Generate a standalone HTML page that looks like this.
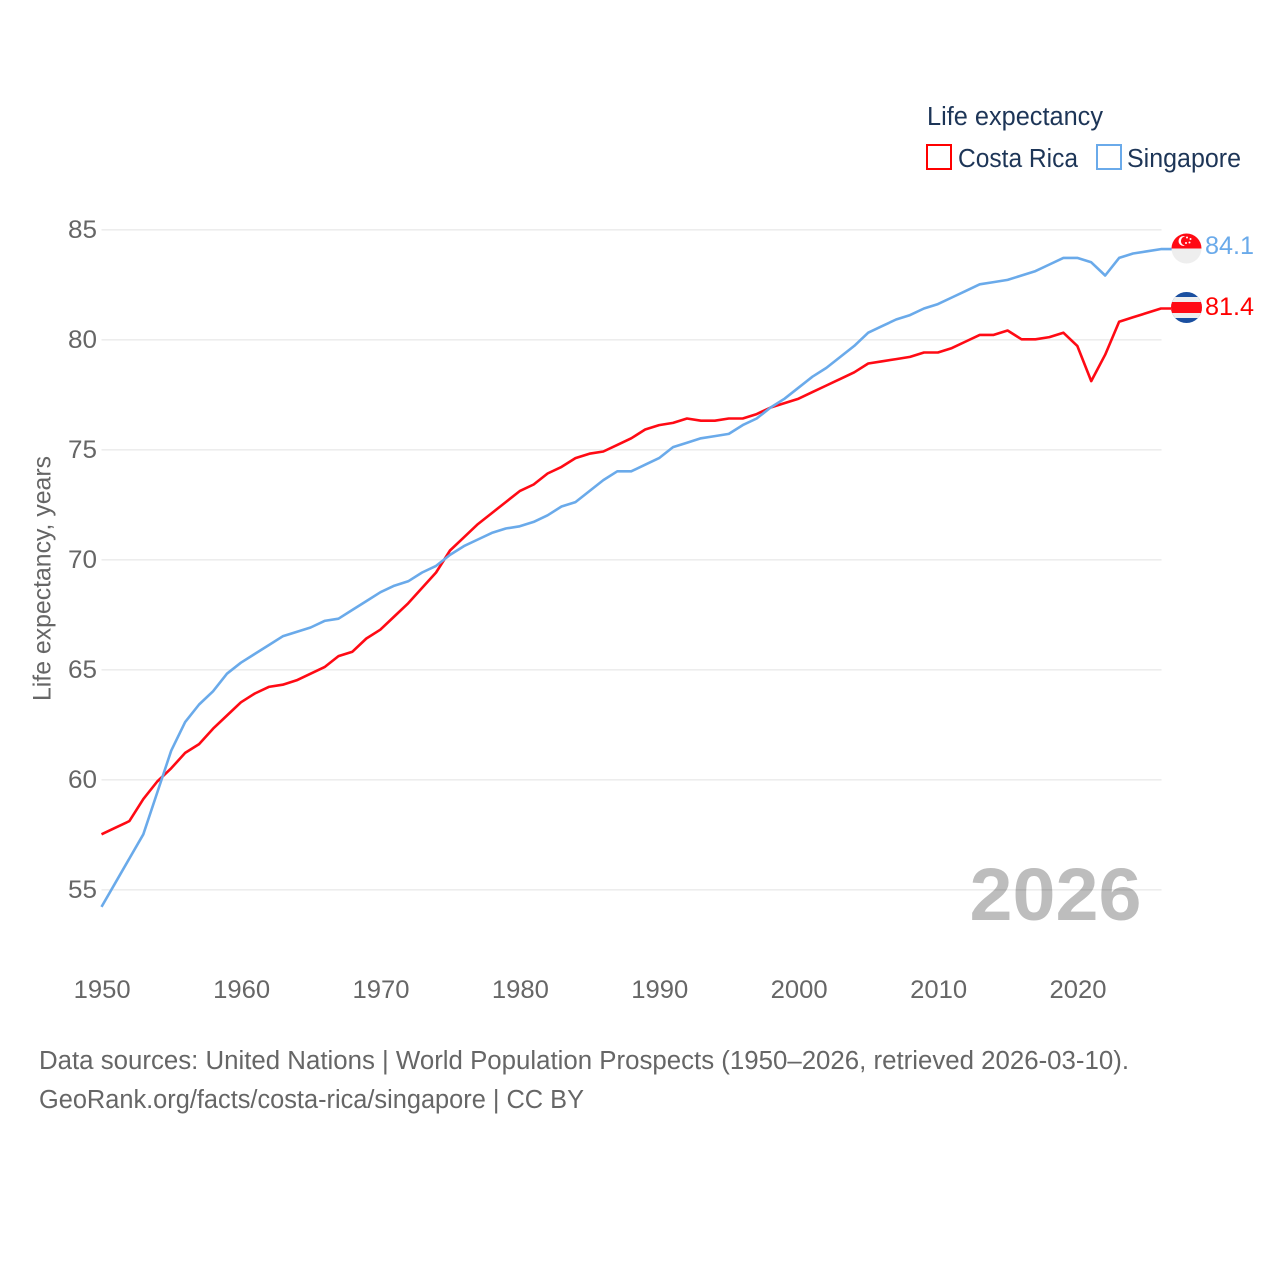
<!DOCTYPE html>
<html>
<head>
<meta charset="utf-8">
<title>Life expectancy: Costa Rica vs Singapore</title>
<style>
html,body{margin:0;padding:0;background:#fff;}
svg{display:block;font-family:"Liberation Sans",sans-serif;}
</style>
</head>
<body>
<svg id="chart" xmlns="http://www.w3.org/2000/svg" width="1280" height="1280" viewBox="0 0 1280 1280">
  <defs>
    <clipPath id="sg-clip"><circle cx="1186.5" cy="248.5" r="15"/></clipPath>
    <clipPath id="cr-clip"><circle cx="1186.5" cy="307.5" r="15.5"/></clipPath>
  </defs>
  <rect x="0" y="0" width="1280" height="1280" fill="#fff"/>

  <text x="969.5" y="920" font-size="74" font-weight="700" fill="#bdbdbd" textLength="172" lengthAdjust="spacingAndGlyphs">2026</text>

  <g id="grid"></g>
  <g id="y-ticks"></g>
  <g id="x-ticks"></g>

  <text transform="translate(50.5,701) rotate(-90)" x="0" y="0" font-size="25" fill="#666" textLength="245" lengthAdjust="spacingAndGlyphs">Life expectancy, years</text>

  <g id="series" transform="translate(0,-0.5)"></g>

  <g>
    <text x="927" y="125" font-size="25.5" fill="#1d3557" textLength="176" lengthAdjust="spacingAndGlyphs">Life expectancy</text>
    <rect x="927" y="145" width="24" height="24" fill="#fff" stroke="#ff0000" stroke-width="2"/>
    <text x="958" y="167" font-size="25.5" fill="#1d3557" textLength="120" lengthAdjust="spacingAndGlyphs">Costa Rica</text>
    <rect x="1097" y="145" width="24" height="24" fill="#fff" stroke="#6aaaea" stroke-width="2"/>
    <text x="1127" y="167" font-size="25.5" fill="#1d3557" textLength="114" lengthAdjust="spacingAndGlyphs">Singapore</text>
  </g>

  <g clip-path="url(#sg-clip)">
    <rect x="1170" y="232" width="34" height="16.5" fill="#ff0a14"/>
    <rect x="1170" y="248.5" width="34" height="17" fill="#eeeeee"/>
    <circle cx="1183.5" cy="241" r="5" fill="#fff"/>
    <circle cx="1185.5" cy="241" r="4.6" fill="#ff0a14"/>
    <circle cx="1187" cy="237.5" r="1" fill="#fff"/>
    <circle cx="1190.5" cy="239" r="1" fill="#fff"/>
    <circle cx="1189.5" cy="242.5" r="1" fill="#fff"/>
    <circle cx="1186" cy="243" r="1" fill="#fff"/>
  </g>
  <g clip-path="url(#cr-clip)">
    <rect x="1170" y="291" width="34" height="34" fill="#1a4fa0"/>
    <rect x="1170" y="297" width="34" height="21" fill="#eeeeee"/>
    <rect x="1170" y="302" width="34" height="11" fill="#ff0a14"/>
  </g>

  <text id="label-sg" x="1205" y="254" font-size="25" fill="#6aaaea" textLength="49" lengthAdjust="spacingAndGlyphs"></text>
  <text id="label-cr" x="1205" y="315" font-size="25" fill="#ff0000" textLength="49" lengthAdjust="spacingAndGlyphs"></text>

  <text x="39" y="1069" font-size="25.5" fill="#666" textLength="1090" lengthAdjust="spacingAndGlyphs">Data sources: United Nations | World Population Prospects (1950–2026, retrieved 2026-03-10).</text>
  <text x="39" y="1108" font-size="25.5" fill="#666" textLength="545" lengthAdjust="spacingAndGlyphs">GeoRank.org/facts/costa-rica/singapore | CC BY</text>
</svg>
<script>
const startYear = 1950;
const yTicks = [55, 60, 65, 70, 75, 80, 85];
const xTicks = [1950, 1960, 1970, 1980, 1990, 2000, 2010, 2020];
const costaRica = [
  57.5, 57.8, 58.1, 59.1, 59.9, 60.5, 61.2, 61.6, 62.3, 62.9,
  63.5, 63.9, 64.2, 64.3, 64.5, 64.8, 65.1, 65.6, 65.8, 66.4,
  66.8, 67.4, 68.0, 68.7, 69.4, 70.4, 71.0, 71.6, 72.1, 72.6,
  73.1, 73.4, 73.9, 74.2, 74.6, 74.8, 74.9, 75.2, 75.5, 75.9,
  76.1, 76.2, 76.4, 76.3, 76.3, 76.4, 76.4, 76.6, 76.9, 77.1,
  77.3, 77.6, 77.9, 78.2, 78.5, 78.9, 79.0, 79.1, 79.2, 79.4,
  79.4, 79.6, 79.9, 80.2, 80.2, 80.4, 80.0, 80.0, 80.1, 80.3,
  79.7, 78.1, 79.3, 80.8, 81.0, 81.2, 81.4
];
const singapore = [
  54.2, 55.3, 56.4, 57.5, 59.4, 61.3, 62.6, 63.4, 64.0, 64.8,
  65.3, 65.7, 66.1, 66.5, 66.7, 66.9, 67.2, 67.3, 67.7, 68.1,
  68.5, 68.8, 69.0, 69.4, 69.7, 70.2, 70.6, 70.9, 71.2, 71.4,
  71.5, 71.7, 72.0, 72.4, 72.6, 73.1, 73.6, 74.0, 74.0, 74.3,
  74.6, 75.1, 75.3, 75.5, 75.6, 75.7, 76.1, 76.4, 76.9, 77.3,
  77.8, 78.3, 78.7, 79.2, 79.7, 80.3, 80.6, 80.9, 81.1, 81.4,
  81.6, 81.9, 82.2, 82.5, 82.6, 82.7, 82.9, 83.1, 83.4, 83.7,
  83.7, 83.5, 82.9, 83.7, 83.9, 84.0, 84.1
];

const SVG_NS = 'http://www.w3.org/2000/svg';
const xScale = function (year) { return 101.5 + (year - 1950) * 13.94; };
const yScale = function (value) { return 229.8 + (85 - value) * 22.0; };
const lastYear = startYear + costaRica.length - 1;
const plotRight = xScale(lastYear);
const flagEdge = 1172;

function make(tag, attrs, parent) {
  const el = document.createElementNS(SVG_NS, tag);
  Object.keys(attrs).forEach(function (k) { el.setAttribute(k, attrs[k]); });
  parent.appendChild(el);
  return el;
}

const gridG = document.getElementById('grid');
const yTickG = document.getElementById('y-ticks');
const xTickG = document.getElementById('x-ticks');
const seriesG = document.getElementById('series');

yTicks.forEach(function (v) {
  const gridLine = make('line', {
    x1: xScale(startYear), x2: plotRight + 0.6, y1: yScale(v), y2: yScale(v),
    stroke: '#000', 'stroke-opacity': 0.07, 'stroke-width': 1.6
  }, gridG);
  
  

  const label = make('text', {
    x: 97, y: yScale(v) + 8.3, 'text-anchor': 'end',
    'font-size': 25, fill: '#666',
    textLength: 29, lengthAdjust: 'spacingAndGlyphs'
  }, yTickG);
  label.textContent = String(v);
  
  
});

xTicks.forEach(function (year) {
  const label = make('text', {
    x: xScale(year) + 0.7, y: 998, 'text-anchor': 'middle',
    'font-size': 25, fill: '#666',
    textLength: 57, lengthAdjust: 'spacingAndGlyphs'
  }, xTickG);
  label.textContent = String(year);
  
  
});

function pointsFor(values) {
  const pts = values.map(function (v, i) {
    return xScale(startYear + i).toFixed(2) + ',' + yScale(v).toFixed(2);
  });
  pts.push(flagEdge + ',' + yScale(values[values.length - 1]).toFixed(2));
  return pts.join(' ');
}

const costaRicaLine = make('polyline', {
  points: pointsFor(costaRica), fill: 'none', stroke: '#ff0a14',
  'stroke-width': 2.6, 'stroke-linejoin': 'round'
}, seriesG);



const singaporeLine = make('polyline', {
  points: pointsFor(singapore), fill: 'none', stroke: '#6aaaea',
  'stroke-width': 2.6, 'stroke-linejoin': 'round'
}, seriesG);



document.getElementById('label-sg').textContent = singapore[singapore.length - 1].toFixed(1);
document.getElementById('label-cr').textContent = costaRica[costaRica.length - 1].toFixed(1);
</script>
</body>
</html>
